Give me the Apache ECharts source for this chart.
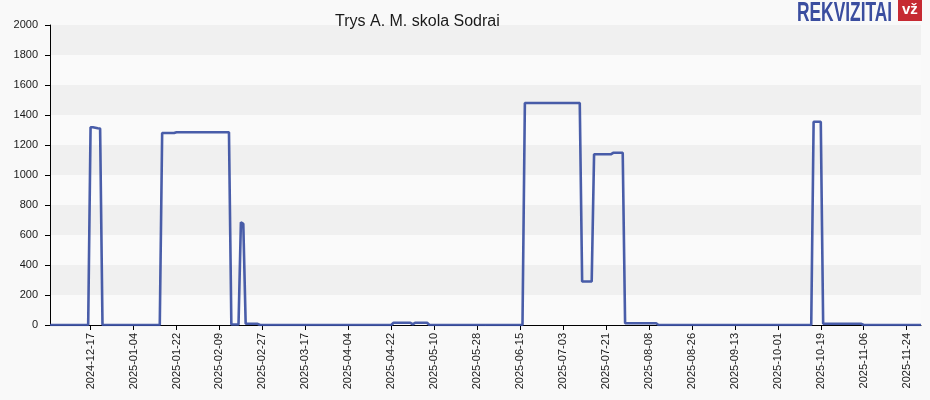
<!DOCTYPE html>
<html>
<head>
<meta charset="utf-8">
<script src="https://cdn.jsdelivr.net/npm/echarts@6/dist/echarts.min.js"></script>
<style>
html,body{margin:0;padding:0;background:#f9f9f9;}
#c{width:930px;height:400px;}
</style>
</head>
<body>
<div id="c"></div>
<script>
// Chart title
const chartTitle = 'Trys A. M. skola Sodrai';
// Daily categories: first date and number of days
const startDate = '2024-11-30';
const dayCount = 366;
// First labelled category index and label step (days)
const labelFirst = 17;
const labelStep = 18;
// Y axis ticks
const yTicks = [0, 200, 400, 600, 800, 1000, 1200, 1400, 1600, 1800, 2000];
// Daily values
const values = [
  0,0,0,0,0,0,0,0,0,0, 0,0,0,0,0,0,0,
  1318,1318,1315,1312,1310,
  0,0,0,0,0,0,0,0,0,0, 0,0,0,0,0,0,0,0,0,0, 0,0,0,0,0,
  1280,1280,1280,1280,1280,1280,
  1285,1285,1285,1285,1285,1285,1285,1285,1285,1285, 1285,1285,1285,1285,1285,1285,1285,1285,1285,1285, 1285,1285,1285,
  3,3,3,3,
  685,675,
  8,8,8,8,8,8,
  0,0,0,0,0,0,0,0,0,0, 0,0,0,0,0,0,0,0,0,0, 0,0,0,0,0,0,0,0,0,0, 0,0,0,0,0,0,0,0,0,0, 0,0,0,0,0,0,0,0,0,0, 0,0,0,0,0,0,
  15,15,15,15,15,15,15,15,
  4,
  15,15,15,15,15,15,
  0,0,0,0,0,0,0,0,0,0, 0,0,0,0,0,0,0,0,0,0, 0,0,0,0,0,0,0,0,0,0, 0,0,0,0,0,0,0,0,0,0,
  1480,1480,1480,1480,1480,1480,1480,1480,1480,1480, 1480,1480,1480,1480,1480,1480,1480,1480,1480,1480, 1480,1480,1480,1480,
  290,290,290,290,290,
  1138,1138,1138,1138,1138,1138,1138,1138,
  1148,1148,1148,1148,1148,
  12,12,12,12,12,12,12,12,12,12, 12,12,12,12,
  0,0,0,0,0,0,0,0,0,0, 0,0,0,0,0,0,0,0,0,0, 0,0,0,0,0,0,0,0,0,0, 0,0,0,0,0,0,0,0,0,0, 0,0,0,0,0,0,0,0,0,0, 0,0,0,0,0,0,0,0,0,0, 0,0,0,0,0,
  1355,1355,1355,1355,
  8,8,8,8,8,8,8,8,8,8, 8,8,8,8,8,8,8,
  0,0,0,0,0,0,0,0,0,0, 0,0,0,0,0,0,0,0,0,0, 0,0,0,0,0
];

const categories = [];
{
  const d0 = new Date(startDate + 'T00:00:00Z');
  for (let i = 0; i < dayCount; i++) {
    const d = new Date(d0.getTime() + i * 86400000);
    categories.push(d.toISOString().slice(0, 10));
  }
}
const showIdx = (i) => i >= labelFirst && (i - labelFirst) % labelStep === 0;

const chart = echarts.init(document.getElementById('c'), null, {renderer: 'canvas'});
chart.setOption({
  backgroundColor: '#f9f9f9',
  animation: false,
  title: {
    text: chartTitle,
    left: 335, top: 14, padding: 0,
    textStyle: {fontFamily: 'Liberation Sans, Arial, sans-serif', fontSize: 16, fontWeight: 'normal', color: '#1a1a1a'}
  },
  grid: {left: 50, right: 9, top: 25, bottom: 75, containLabel: false},
  xAxis: {
    type: 'category',
    data: categories,
    boundaryGap: false,
    axisLine: {lineStyle: {color: '#000', width: 1}},
    axisTick: {show: true, interval: showIdx, length: 5, lineStyle: {color: '#000'}},
    axisLabel: {
      interval: showIdx, rotate: 90, margin: 8,
      fontFamily: 'Liberation Sans, Arial, sans-serif', fontSize: 11, color: '#1a1a1a'
    },
    splitLine: {show: false}
  },
  yAxis: {
    type: 'value',
    min: yTicks[0], max: yTicks[yTicks.length - 1], interval: yTicks[1] - yTicks[0],
    axisLine: {show: true, lineStyle: {color: '#000', width: 1}},
    axisTick: {show: true, inside: false, length: 5, lineStyle: {color: '#000', width: 1}},
    axisLabel: {margin: 12, formatter: (v) => String(v), fontFamily: 'Liberation Sans, Arial, sans-serif', fontSize: 11, color: '#1a1a1a'},
    splitLine: {show: false},
    splitArea: {show: true, areaStyle: {color: ['#fafafa', '#f0f0f0']}}
  },
  series: [{
    type: 'line',
    data: values,
    showSymbol: false,
    symbol: 'none',
    lineStyle: {color: '#3a4fa2', width: 2.6, opacity: 0.92},
    itemStyle: {color: '#3a4fa2'}
  }],
  graphic: [
    {
      type: 'text', x: 797, y: -1, scaleX: 0.62, scaleY: 1,
      style: {text: 'REKVIZITAI', font: 'bold 28px "Liberation Sans", Arial, sans-serif', fill: '#3a4d9f', textVerticalAlign: 'top'}
    },
    {
      type: 'rect', shape: {x: 898, y: 0, width: 24, height: 21},
      style: {fill: '#c62a32'}
    },
    {
      type: 'text', x: 902, y: 2,
      style: {text: 'vž', font: 'bold 15px "Liberation Sans", Arial, sans-serif', fill: '#ffffff', textVerticalAlign: 'top'}
    }
  ]
});
</script>
</body>
</html>
